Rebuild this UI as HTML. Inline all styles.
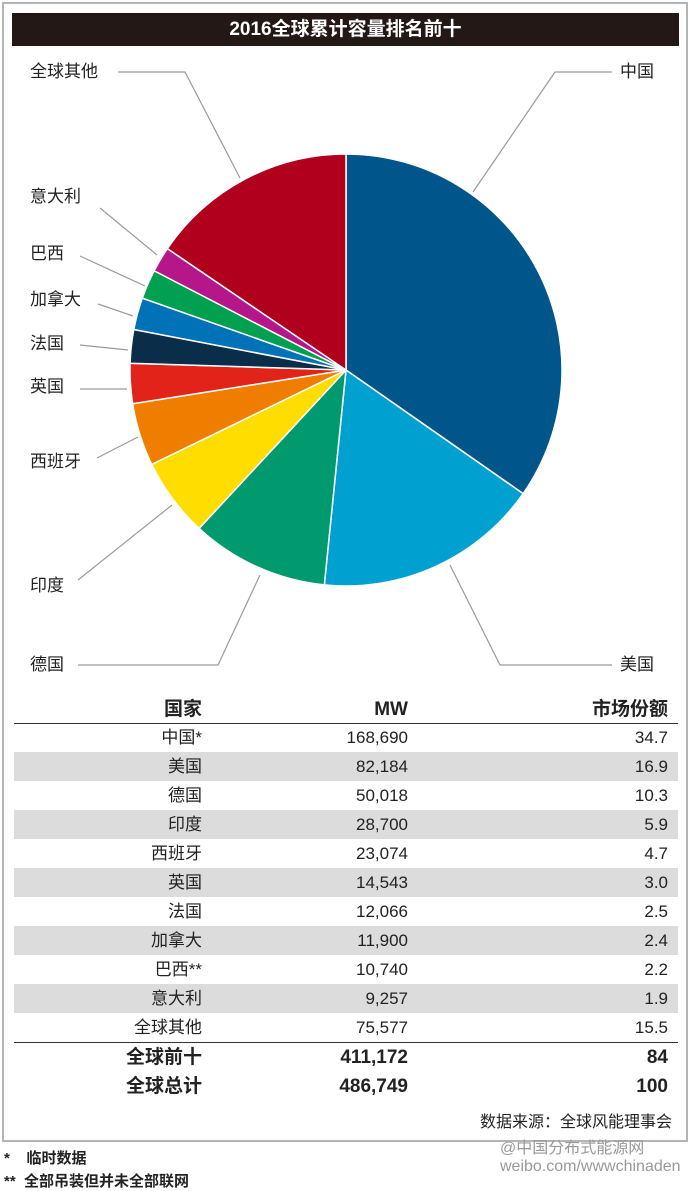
<!DOCTYPE html>
<html><head><meta charset="utf-8">
<style>
body{margin:0;background:#fff;font-family:"Liberation Sans","Noto Sans CJK SC",sans-serif;}
#wrap{position:relative;width:690px;height:1191px;overflow:hidden;background:#fff;}
#frame{position:absolute;left:2px;top:2px;width:682px;height:1136px;border:2px solid #b5b5b5;}
#title{position:absolute;left:12px;top:13px;width:667px;height:33px;background:#231815;color:#fff;font-size:19px;font-weight:bold;text-align:center;line-height:33px;}
.row{position:absolute;left:14px;width:664px;height:29px;font-size:17px;color:#222;}
.row.g{background:#dcdcdd;}
.row span{position:absolute;top:0;line-height:29px;text-align:right;}
.c1{right:476px}.c2{right:270px}.c3{right:10px}
.b{font-weight:bold;font-size:19px;}
.lbl{position:absolute;font-size:17px;color:#222;line-height:20px;}
</style></head><body>
<div id="wrap">
<div id="frame"></div>
<div id="title">2016全球累计容量排名前十</div>
<svg id="pie" width="690" height="700" style="position:absolute;left:0;top:0"></svg>
<div class="lbl" style="left:30px;top:62px">全球其他</div>
<div class="lbl" style="left:620px;top:62px">中国</div>
<div class="lbl" style="left:30px;top:187px">意大利</div>
<div class="lbl" style="left:30px;top:244px">巴西</div>
<div class="lbl" style="left:30px;top:290px">加拿大</div>
<div class="lbl" style="left:30px;top:334px">法国</div>
<div class="lbl" style="left:30px;top:377px">英国</div>
<div class="lbl" style="left:30px;top:452px">西班牙</div>
<div class="lbl" style="left:30px;top:576px">印度</div>
<div class="lbl" style="left:30px;top:655px">德国</div>
<div class="lbl" style="left:620px;top:655px">美国</div>

<div class="row b" style="top:695px;height:28px;border-bottom:1.5px solid #333"><span class="c1">国家</span><span class="c2">MW</span><span class="c3">市场份额</span></div>
<div id="rows"></div>
<div style="position:absolute;left:14px;top:1042px;width:664px;border-top:1.5px solid #333"></div>
<div class="row b" style="top:1043px"><span class="c1">全球前十</span><span class="c2">411,172</span><span class="c3">84</span></div>
<div class="row b" style="top:1072px"><span class="c1">全球总计</span><span class="c2">486,749</span><span class="c3">100</span></div>
<div style="position:absolute;right:18px;top:1108px;font-size:16px;color:#222">数据来源：全球风能理事会</div>
<div style="position:absolute;left:4px;top:1147px;font-size:15px;font-weight:bold;color:#222">*&nbsp;&nbsp;&nbsp; 临时数据</div>
<div style="position:absolute;left:4px;top:1170px;font-size:15px;font-weight:bold;color:#222">**&nbsp; 全部吊装但并未全部联网</div>
<div style="position:absolute;left:500px;top:1140px;font-size:16px;color:#999;line-height:18px">@中国分布式能源网<br>weibo.com/wwwchinaden</div>
</div>
<script>
const countries=["中国*","美国","德国","印度","西班牙","英国","法国","加拿大","巴西**","意大利","全球其他"];
const mw=[168690,82184,50018,28700,23074,14543,12066,11900,10740,9257,75577];
const share=[34.7,16.9,10.3,5.9,4.7,3.0,2.5,2.4,2.2,1.9,15.5];
const colors=["#00558a","#00a0d0","#009a6e","#ffdd00","#ee7d00","#e2231a","#0a2d4a","#0072b8","#00a050","#b5168a","#b0001e"];
const svg=document.getElementById('pie');const NS="http://www.w3.org/2000/svg";
const cx=346,cy=370,r=216;
const tot=share.reduce((a,b)=>a+b,0);
let a0=0;
function pt(a){return [cx+r*Math.sin(a),cy-r*Math.cos(a)];}
share.forEach((v,i)=>{
  const a1=a0+v/tot*2*Math.PI;
  const p0=pt(a0),p1=pt(a1);
  const p=document.createElementNS(NS,'path');
  p.setAttribute('d',`M${cx},${cy}L${p0[0]},${p0[1]}A${r},${r} 0 ${a1-a0>Math.PI?1:0} 1 ${p1[0]},${p1[1]}Z`);
  p.setAttribute('fill',colors[i]);p.setAttribute('stroke','#fff');p.setAttribute('stroke-width','1.5');
  
  
  svg.appendChild(p);a0=a1;
});
const leaders=["118,72 185,72 240,178","612,72 555,72 473,192","100,208 157,255","80,256 145,286","98,304 133,316","80,345 128,350","80,389 127,389","97,458 138,437","78,580 172,505","78,665 218,665 260,575","612,665 500,665 450,565"];
leaders.forEach(s=>{const l=document.createElementNS(NS,'polyline');l.setAttribute('points',s);l.setAttribute('fill','none');l.setAttribute('stroke','#9a9a9a');l.setAttribute('stroke-width','1.2');


svg.appendChild(l);});
const rows=document.getElementById('rows');
countries.forEach((c,i)=>{const d=document.createElement('div');d.className='row'+(i%2?' g':'');d.style.top=(723+i*29)+'px';
d.innerHTML=`<span class="c1">${c}</span><span class="c2">${mw[i].toLocaleString('en-US')}</span><span class="c3">${share[i].toFixed(1)}</span>`;


rows.appendChild(d);});
</script>
</body></html>
